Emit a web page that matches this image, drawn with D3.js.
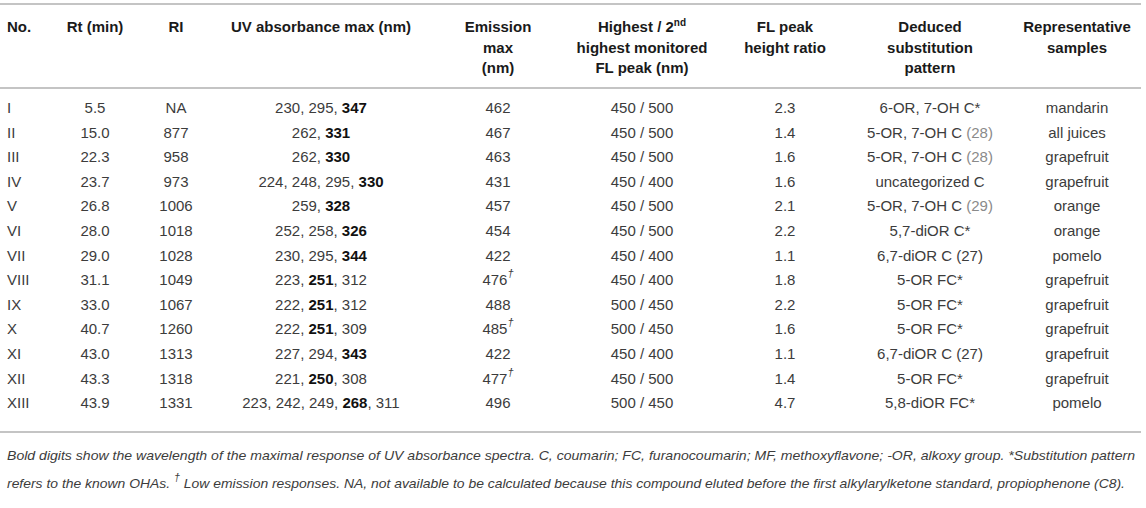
<!DOCTYPE html>
<html>
<head>
<meta charset="utf-8">
<script src="https://cdn.jsdelivr.net/npm/d3@7"></script>
<style>
  body { margin: 0; background: #fff; }
  svg { display: block; font-family: "Liberation Sans", Arial, sans-serif; }
</style>
</head>
<body>
<div id="chart"></div>
<script>
// table data
var compounds = ['I', 'II', 'III', 'IV', 'V', 'VI', 'VII', 'VIII', 'IX', 'X', 'XI', 'XII', 'XIII'];
var rtMin = ['5.5', '15.0', '22.3', '23.7', '26.8', '28.0', '29.0', '31.1', '33.0', '40.7', '43.0', '43.3', '43.9'];
var retIndex = ['NA', 877, 958, 973, 1006, 1018, 1028, 1049, 1067, 1260, 1313, 1318, 1331];
var uvPeaks = [
  [230, 295, 347], [262, 331], [262, 330], [224, 248, 295, 330], [259, 328],
  [252, 258, 326], [230, 295, 344], [223, 251, 312], [222, 251, 312], [222, 251, 309],
  [227, 294, 343], [221, 250, 308], [223, 242, 249, 268, 311]
];
var uvMax = [347, 331, 330, 330, 328, 326, 344, 251, 251, 251, 343, 250, 268];
var emissionMax = [462, 467, 463, 431, 457, 454, 422, 476, 488, 485, 422, 477, 496];
var lowEmission = [0, 0, 0, 0, 0, 0, 0, 1, 0, 1, 0, 1, 0];
var flHighest = [450, 450, 450, 450, 450, 450, 450, 450, 500, 500, 450, 450, 500];
var flSecond = [500, 500, 500, 400, 500, 500, 400, 400, 450, 450, 400, 500, 450];
var flRatio = ['2.3', '1.4', '1.6', '1.6', '2.1', '2.2', '1.1', '1.8', '2.2', '1.6', '1.1', '1.4', '4.7'];
var patterns = ['6-OR, 7-OH C*', '5-OR, 7-OH C', '5-OR, 7-OH C', 'uncategorized C', '5-OR, 7-OH C',
  '5,7-diOR C*', '6,7-diOR C', '5-OR FC*', '5-OR FC*', '5-OR FC*', '6,7-diOR C', '5-OR FC*', '5,8-diOR FC*'];
var patternRefs = ['', '(28)', '(28)', '', '(29)', '', '(27)', '', '', '', '(27)', '', ''];
var refLinked = [0, 1, 1, 0, 1, 0, 0, 0, 0, 0, 0, 0, 0];
var samples = ['mandarin', 'all juices', 'grapefruit', 'grapefruit', 'orange', 'orange', 'pomelo',
  'grapefruit', 'grapefruit', 'grapefruit', 'grapefruit', 'grapefruit', 'pomelo'];
var headers = [
  ['No.'], ['Rt (min)'], ['RI'], ['UV absorbance max (nm)'], ['Emission', 'max', '(nm)'],
  ['Highest / 2nd', 'highest monitored', 'FL peak (nm)'], ['FL peak', 'height ratio'],
  ['Deduced', 'substitution', 'pattern'], ['Representative', 'samples']
];
var footnote1 = 'Bold digits show the wavelength of the maximal response of UV absorbance spectra. C, coumarin; FC, furanocoumarin; MF, methoxyflavone; -OR, alkoxy group. *Substitution pattern';
var footnote2a = 'refers to the known OHAs. ';
var footnote2b = ' Low emission responses. NA, not available to be calculated because this compound eluted before the first alkylarylketone standard, propiophenone (C8).';

var width = 1146, height = 508;
var colX = [7, 95, 176, 321, 498, 642, 785, 930, 1077];
var anchors = ['start', 'middle', 'middle', 'middle', 'middle', 'middle', 'middle', 'middle', 'middle'];

var svg = d3.select('#chart').append('svg')
  .attr('width', width).attr('height', height);

var rowStep = 24.6;
var y = d3.scaleBand().domain(compounds).range([108 - rowStep / 2, 108 - rowStep / 2 + 13 * rowStep]);

// rules
[4, 88, 432].forEach(function(ry) {
  svg.append('line')
    .attr('x1', 0).attr('x2', 1141).attr('y1', ry).attr('y2', ry)
    .style('stroke', '#c4c4c4').style('stroke-width', 2);
});

// header
headers.forEach(function(lines, c) {
  lines.forEach(function(line, k) {
    var t = svg.append('text')
      .attr('x', colX[c]).attr('y', 32 + k * 20.5)
      .attr('text-anchor', anchors[c])
      .style('font-size', '15px').style('font-weight', 'bold').style('fill', '#1a1a1a');
    if (line.indexOf('2nd') >= 0) {
      t.append('tspan').text('Highest / 2');
      t.append('tspan').text('nd').attr('dy', -6).style('font-size', '10px');
    } else {
      t.text(line);
    }
  });
});

var body = '#3c3c3c';
var rows = svg.selectAll('g.row').data(compounds).enter().append('g')
  .attr('class', 'row')
  .attr('transform', function(d) { return 'translate(0,' + (y(d) + y.bandwidth() / 2 + 5) + ')'; });

function cell(sel, c) {
  return sel.append('text').attr('x', colX[c]).attr('text-anchor', anchors[c])
    .style('font-size', '15px').style('fill', body);
}

rows.each(function(d, i) {
  var g = d3.select(this);
  cell(g, 0).text(d);
  cell(g, 1).text(rtMin[i]);
  cell(g, 2).text(retIndex[i]);
  var uv = cell(g, 3);
  uvPeaks[i].forEach(function(v, k) {
    uv.append('tspan').text(v).style('font-weight', v === uvMax[i] ? 'bold' : 'normal')
      .style('fill', v === uvMax[i] ? '#111' : body);
    if (k < uvPeaks[i].length - 1) uv.append('tspan').text(', ');
  });
  var em = cell(g, 4);
  em.append('tspan').text(emissionMax[i]);
  if (lowEmission[i]) {
    em.append('tspan').text('\u2020').attr('dy', -8).style('font-size', '11px').style('font-style', 'italic');
  }
  cell(g, 5).text(flHighest[i] + ' / ' + flSecond[i]);
  cell(g, 6).text(flRatio[i]);
  var pt = cell(g, 7);
  pt.append('tspan').text(patterns[i]);
  if (patternRefs[i]) {
    pt.append('tspan').text(' ');
    pt.append('tspan').text(patternRefs[i]).style('fill', refLinked[i] ? '#8a8a8a' : body);
  }
  cell(g, 8).text(samples[i]);
});

// footnotes
svg.append('text').attr('x', 7).attr('y', 460)
  .attr('textLength', 1128).attr('lengthAdjust', 'spacingAndGlyphs')
  .style('font-size', '13px').style('font-style', 'italic').style('fill', '#3c3c3c')
  .text(footnote1);
var fn2 = svg.append('text').attr('x', 7).attr('y', 488)
  .attr('textLength', 1118).attr('lengthAdjust', 'spacingAndGlyphs')
  .style('font-size', '13px').style('font-style', 'italic').style('fill', '#3c3c3c');
fn2.append('tspan').text(footnote2a);
fn2.append('tspan').text('\u2020').attr('dy', -7).style('font-size', '10px');
fn2.append('tspan').text(footnote2b).attr('dy', 7);
</script>
</body>
</html>
